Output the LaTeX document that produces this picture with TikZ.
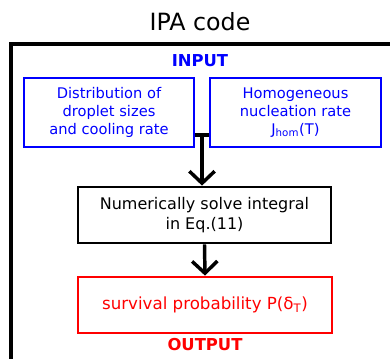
\documentclass[tikz,border=0pt]{standalone}
\usepackage{fontspec}
\setmainfont{DejaVu Sans}
\usetikzlibrary{arrows.meta}
\definecolor{pblue}{RGB}{0,0,255}
\definecolor{pred}{RGB}{255,0,0}
\begin{document}
\begin{tikzpicture}[x=0.75pt,y=-0.75pt,
  inbox/.style={draw=pblue,line width=2.1pt,text=pblue,align=center,minimum height=69*0.75pt,inner sep=0pt,font=\fontsize{11}{13.3}\selectfont},
  procbox/.style={draw=black,line width=2.1pt,align=center,minimum width=253*0.75pt,minimum height=56*0.75pt,inner sep=0pt,font=\fontsize{12}{15}\selectfont},
  outbox/.style={draw=pred,line width=2.1pt,text=pred,align=center,minimum width=254*0.75pt,minimum height=56*0.75pt,inner sep=0pt,font=\fontsize{12.5}{15}\selectfont},
  flow/.style={line width=2.6pt,-{Straight Barb[length=9pt,width=19pt,line width=2.6pt]}},
  lbl/.style={font=\bfseries\fontsize{12.3}{14}\selectfont}]
\useasboundingbox (0,0) rectangle (390,358);
\node[font=\fontsize{17.8}{20}\selectfont] (title) at (200,22) {IPA code};
\draw[line width=2.3pt] (11,362) |- (394,44);
\node[lbl,text=pblue] (inlbl) at (200,61) {INPUT};
\node[inbox,minimum width=170*0.75pt] (in1) at (109,112.5) {Distribution of\\droplet sizes\\and cooling rate};
\node[inbox,minimum width=171*0.75pt] (in2) at (295.5,112.5) {Homogeneous\\nucleation rate\\J\textsubscript{hom}(T)};
\node[procbox] (solve) at (204.5,215) {Numerically solve integral\\in Eq.(11)};
\node[outbox] (out) at (205,305) {survival probability P(δ\textsubscript{T})};
\node[lbl,text=pred] (outlbl) at (205,345) {OUTPUT};
\coordinate (j) at (202,135);
\draw[line width=2.6pt] (in1.east |- j) -- (in2.west |- j);
\draw[flow] (j) -- (j |- solve.north);
\draw[flow] (solve.south) -- (out.north);
\end{tikzpicture}
\end{document}
